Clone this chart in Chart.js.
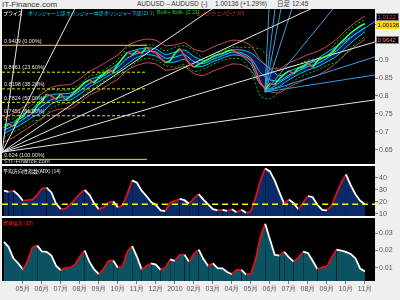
<!DOCTYPE html>
<html>
<head>
<meta charset="utf-8">
<title>AUDUSD</title>
<script src="https://cdn.jsdelivr.net/npm/chart.js@4.4.0/dist/chart.umd.min.js"></script>
<style>
  html, body { margin: 0; padding: 0; }
  body { width: 400px; height: 300px; background: #efefef; position: relative; overflow: hidden;
         font-family: "Liberation Sans", "Noto Sans CJK JP", sans-serif; }
  canvas { position: absolute; left: 0; }
  .lbl { position: absolute; white-space: nowrap; line-height: 1; transform-origin: left top; }
  .jp { font-family: "Noto Sans CJK JP", sans-serif; }
  .sep { position: absolute; left: 2px; width: 373px; height: 2px; background: #fff; }
</style>
</head>
<body>
<div class="lbl" style="left:2px;top:1px;font-size:8px;color:#333;">IT-Finance.com</div>
<div class="lbl" style="left:137px;top:1px;font-size:6.5px;color:#333;">AUDUSD – AUDUSD</div>
<div class="lbl" style="left:201px;top:1px;font-size:6.5px;color:#333;">(-)</div>
<div class="lbl" style="left:215px;top:1px;font-size:6.5px;color:#333;">1.00136 (+1.29%)</div>
<div class="lbl jp" style="left:277px;top:0px;font-size:6.5px;color:#333;">日足</div>
<div class="lbl" style="left:292px;top:1px;font-size:6.5px;color:#333;">12:45</div>

<canvas id="mainChart" width="400" height="156" style="top:9px"></canvas>
<canvas id="adxChart" width="400" height="50" style="top:166px"></canvas>
<canvas id="sdChart" width="400" height="80" style="top:218px"></canvas>
<div class="sep" style="top:164px"></div>
<div class="sep" style="top:216px"></div>

<div class="lbl jp" style="left:3px;top:10px;font-size:5px;color:#fff;">プライス</div>
<div class="lbl jp" style="left:28px;top:10px;font-size:5px;color:#00d8ff;transform:scaleX(0.93);">ボリンジャー上部 ボリンジャー中部 ボリンジャー下部 [21 1]</div>
<div class="lbl" style="left:157px;top:10px;font-size:5.5px;color:#00e000;">Bolli+ Bolli- [2 21]</div>
<div class="lbl jp" style="left:197px;top:10px;font-size:5px;color:#e04040;transform:scaleX(0.6);">エンベロープ+ エンベロープ- [10 3]</div>
<div class="lbl" style="left:4px;top:158px;font-size:6px;color:#ddd;">©IT-Finance.com</div>
<div class="lbl jp" style="left:3px;top:168px;font-size:5px;color:#fff;">平均方向性指数(ADX) (14)</div>
<div class="lbl jp" style="left:3px;top:220px;font-size:5px;color:#ff2020;">標準偏差 (20)</div>

<script>
// x axis is months counted from 1 Apr 2009
const X_MIN = -0.1;
const X_MAX = 19.53;
const PRICE_STEP = 0.25;  // months between price / indicator samples
const BAND_STEP = 0.5;    // months between band samples

const monthTicks = [1, 2, 3, 4, 5, 6, 7, 8, 9, 10, 11, 12, 13, 14, 15, 16, 17, 18, 19];
const monthLabels = ['05月', '06月', '07月', '08月', '09月', '10月', '11月', '12月', '2010',
  '02月', '03月', '04月', '05月', '06月', '07月', '08月', '09月', '10月', '11月'];

// AUD/USD close, every quarter month
const closePrice = [
  0.712, 0.722, 0.716, 0.735, 0.742, 0.760, 0.752, 0.772, 0.785, 0.805, 0.800, 0.790,
  0.806, 0.788, 0.800, 0.812, 0.825, 0.838, 0.845, 0.836, 0.852, 0.860, 0.873, 0.868,
  0.888, 0.905, 0.922, 0.915, 0.925, 0.918, 0.935, 0.925, 0.920, 0.905, 0.892, 0.898,
  0.918, 0.932, 0.912, 0.890, 0.880, 0.888, 0.895, 0.902, 0.910, 0.915, 0.918, 0.925,
  0.928, 0.920, 0.915, 0.908, 0.900, 0.872, 0.838, 0.818, 0.835, 0.832, 0.848, 0.860,
  0.870, 0.862, 0.878, 0.882, 0.892, 0.880, 0.898, 0.906, 0.912, 0.918, 0.935, 0.950,
  0.962, 0.975, 0.985, 0.995, 1.001
];

// bands, every half month
const bandMid = [0.705, 0.718, 0.735, 0.752, 0.772, 0.790, 0.797, 0.798, 0.815, 0.835, 0.848, 0.864, 0.880,
  0.905, 0.918, 0.925, 0.922, 0.905, 0.908, 0.915, 0.895, 0.890, 0.902, 0.912, 0.922, 0.920,
  0.905, 0.865, 0.845, 0.842, 0.858, 0.870, 0.882, 0.890, 0.905, 0.925, 0.950, 0.972, 0.990];
const bandUp1 = [0.720, 0.728, 0.748, 0.764, 0.792, 0.804, 0.806, 0.808, 0.824, 0.845, 0.855, 0.872, 0.890,
  0.920, 0.929, 0.934, 0.931, 0.915, 0.922, 0.928, 0.910, 0.898, 0.908, 0.918, 0.928, 0.928,
  0.920, 0.898, 0.875, 0.856, 0.869, 0.879, 0.891, 0.898, 0.912, 0.938, 0.962, 0.985, 1.001];
const bandDn1 = [0.695, 0.709, 0.724, 0.741, 0.754, 0.778, 0.788, 0.789, 0.805, 0.825, 0.840, 0.856, 0.869,
  0.889, 0.907, 0.915, 0.911, 0.895, 0.894, 0.902, 0.882, 0.883, 0.895, 0.905, 0.914, 0.911,
  0.888, 0.833, 0.819, 0.827, 0.845, 0.860, 0.872, 0.881, 0.895, 0.910, 0.935, 0.958, 0.978];
const bandUp2 = [0.735, 0.738, 0.760, 0.775, 0.812, 0.818, 0.815, 0.818, 0.832, 0.855, 0.862, 0.880, 0.900,
  0.935, 0.940, 0.942, 0.940, 0.925, 0.935, 0.940, 0.925, 0.905, 0.915, 0.925, 0.935, 0.935,
  0.935, 0.930, 0.905, 0.870, 0.880, 0.888, 0.900, 0.905, 0.920, 0.950, 0.975, 0.998, 1.012];
const bandDn2 = [0.685, 0.700, 0.712, 0.730, 0.735, 0.765, 0.778, 0.780, 0.795, 0.815, 0.832, 0.848, 0.858,
  0.872, 0.895, 0.905, 0.900, 0.885, 0.880, 0.888, 0.868, 0.875, 0.888, 0.898, 0.905, 0.902,
  0.870, 0.800, 0.792, 0.812, 0.832, 0.850, 0.862, 0.872, 0.885, 0.895, 0.920, 0.945, 0.965];
const envUp = [0.738, 0.752, 0.768, 0.786, 0.806, 0.824, 0.830, 0.832, 0.848, 0.868, 0.882, 0.898, 0.914,
  0.940, 0.952, 0.958, 0.955, 0.940, 0.942, 0.948, 0.930, 0.924, 0.936, 0.946, 0.955, 0.953,
  0.940, 0.900, 0.878, 0.875, 0.892, 0.903, 0.915, 0.924, 0.938, 0.958, 0.983, 1.005, 1.022];
const envDn = [0.672, 0.685, 0.702, 0.719, 0.739, 0.757, 0.764, 0.765, 0.782, 0.802, 0.815, 0.831, 0.847,
  0.872, 0.885, 0.892, 0.889, 0.872, 0.875, 0.882, 0.862, 0.857, 0.869, 0.879, 0.889, 0.887,
  0.872, 0.832, 0.812, 0.809, 0.825, 0.837, 0.849, 0.857, 0.872, 0.892, 0.917, 0.939, 0.957];

// fibonacci retracement
const fibLevels = [0.9409, 0.8661, 0.8198, 0.7824, 0.7451, 0.624];
const fibLabels = ['0.9409 (0.00%)', '0.8661 (23.60%)', '0.8198 (38.20%)', '0.7824 (50.00%)',
  '0.7451 (61.80%)', '0.624 (100.00%)'];
const FIB_END = 7.53;

// gann fans: [month, price] base and slopes in price per month
const fanWhiteBase = [-0.1, 0.644];
const fanWhiteSlopes = [0.38, 0.104, 0.036, 0.0245, 0.0156, 0.0074];
const fanBlueBase = [13.74, 0.811];
const fanBlueSlopes = [1.1, 0.44, 0.275, 0.163, 0.0645, 0.0338, 0.0169, 0.0082];

// ADX (14), every quarter month
const adxValues = [
  29.5, 28.5, 29.5, 26, 21, 21.5, 22, 26, 31, 32, 28, 18.5, 14, 14.5, 18, 22.5, 27, 30, 26, 19,
  14, 15.5, 19.5, 20.5, 15.5, 17, 27, 38, 36, 29.5, 25, 20, 17.5, 13, 12.5, 19.5, 21, 22.5, 21.5, 18.5,
  23, 26.5, 22, 18, 14, 13, 13.5, 12.5, 14, 11.5, 13.5, 11, 12, 24, 38, 48, 45.5, 38, 28, 18.5,
  22, 19, 14, 19.5, 25, 24, 17.5, 13.5, 13, 17, 27, 36, 43, 34, 26.5, 21, 18.2
];
const ADX_NOW = 18.226;

// standard deviation (20), every quarter month
const sdValues = [
  0.0250, 0.0220, 0.0155, 0.0126, 0.0090, 0.0140, 0.0218, 0.0228, 0.0195, 0.0192, 0.0170, 0.0110,
  0.0085, 0.0100, 0.0100, 0.0120, 0.0164, 0.0200, 0.0135, 0.0090, 0.0062, 0.0095, 0.0140, 0.0142,
  0.0100, 0.0110, 0.0195, 0.0225, 0.0165, 0.0090, 0.0110, 0.0125, 0.0118, 0.0088, 0.0100, 0.0148,
  0.0140, 0.0175, 0.0175, 0.0135, 0.0180, 0.0205, 0.0150, 0.0110, 0.0125, 0.0098, 0.0096, 0.0075,
  0.0062, 0.0087, 0.0088, 0.0060, 0.0065, 0.0150, 0.0280, 0.0355, 0.0265, 0.0175, 0.0170, 0.0193,
  0.0160, 0.0135, 0.0160, 0.0193, 0.0185, 0.0140, 0.0092, 0.0102, 0.0107, 0.0160, 0.0205, 0.0200,
  0.0192, 0.0180, 0.0155, 0.0095, 0.0078
];
const SD_NOW = 0.0078;

const priceTicks = [0.65, 0.7, 0.75, 0.8, 0.85, 0.9, 0.95, 1.0];
const adxTicks = [10, 20, 30, 40];
const sdTicks = [0.01, 0.02, 0.03];

const priceTagValues = [1.0122, 1.00136, 0.9735, 0.9642];
const priceTagTexts = ['1.0122', '1.00136', '0.9735', '0.9642'];


function toPoints(values, step) {
  return values.map((v, i) => ({ x: i * step, y: v }));
}

function fanLine(base, slope) {
  return [{ x: base[0], y: base[1] }, { x: X_MAX, y: base[1] + slope * (X_MAX - base[0]) }];
}

function flatLine(value, from, to) {
  return [{ x: from, y: value }, { x: to, y: value }];
}

// black panel behind the plot area
const panelBg = {
  id: 'panelBg',
  beforeDraw(chart) {
    const { ctx, chartArea: a } = chart;
    ctx.save();
    ctx.fillStyle = '#000';
    ctx.fillRect(a.left, a.top, a.right - a.left, a.bottom - a.top);
    ctx.restore();
  }
};

// value boxes on the right axis
const valueTags = {
  id: 'valueTags',
  afterDraw(chart, args, opts) {
    const { ctx, chartArea, scales } = chart;
    (opts.items || []).forEach(t => {
      const cy = Math.round(scales.y.getPixelForValue(t.value)) + (t.shift || 0);
      const x0 = chartArea.right + 1;
      ctx.save();
      ctx.fillStyle = t.bg;
      ctx.fillRect(x0, cy - 4, 23, 8);
      if (t.border) {
        ctx.strokeStyle = t.border;
        ctx.lineWidth = 1;
        ctx.strokeRect(x0 + 0.5, cy - 3.5, 22, 7);
      }
      ctx.fillStyle = t.fg;
      ctx.font = '6px "Liberation Sans"';
      ctx.textBaseline = 'middle';
      ctx.fillText(t.text, x0 + 1.5, cy + 0.5);
      ctx.restore();
    });
  }
};

const fibText = {
  id: 'fibText',
  afterDatasetsDraw(chart) {
    const { ctx, scales: { x, y } } = chart;
    ctx.save();
    ctx.font = '5.5px "Liberation Sans"';
    ctx.fillStyle = '#e0e0e0';
    ctx.textBaseline = 'bottom';
    fibLevels.forEach((lv, i) => {
      ctx.fillText(fibLabels[i], x.getPixelForValue(X_MIN) + 2, y.getPixelForValue(lv) - 1.5);
    });
    ctx.restore();
  }
};

function rightAxis(min, max, ticks) {
  return {
    position: 'right',
    min: min,
    max: max,
    afterBuildTicks: s => { s.ticks = ticks.map(v => ({ value: v })); },
    afterFit: s => { s.width = 25; s.paddingTop = 0; s.paddingBottom = 0; },
    grid: { drawOnChartArea: false, tickLength: 3, color: '#777' },
    border: { display: false },
    ticks: { color: '#555', font: { size: 7, family: 'Liberation Sans' }, padding: 1,
             autoSkip: false, callback: v => String(v) }
  };
}

function hiddenX() {
  return { type: 'linear', min: X_MIN, max: X_MAX, display: false };
}

function baseOptions(scales, tags) {
  return {
    responsive: false,
    animation: false,
    events: [],
    layout: { padding: { left: 2, right: 0, top: 0, bottom: 0 }, autoPadding: false },
    elements: { point: { radius: 0 }, line: { tension: 0.2 } },
    plugins: { legend: { display: false }, tooltip: { enabled: false }, valueTags: { items: tags } },
    scales: scales
  };
}

const upDown = (up, down) => ({
  borderColor: c => c.p1.parsed.y >= c.p0.parsed.y ? up : down
});

// ---- main price panel ----
const mainSets = [];
mainSets.push({ data: toPoints(closePrice, PRICE_STEP), borderWidth: 1.5, order: 0,
  borderColor: '#3cff3c', segment: upDown('#3cff3c', '#ff4040'), tension: 0 });
fanWhiteSlopes.forEach(s => mainSets.push({ data: fanLine(fanWhiteBase, s), borderColor: '#e6e6e6',
  borderWidth: 1, order: 1, tension: 0 }));
fanBlueSlopes.forEach(s => mainSets.push({ data: fanLine(fanBlueBase, s), borderColor: '#3a9be0',
  borderWidth: 1, order: 1, tension: 0 }));
fibLevels.forEach((lv, i) => mainSets.push({ data: flatLine(lv, X_MIN, FIB_END), borderColor: '#e6e600',
  borderWidth: 1, borderDash: (i === 0 || i === fibLevels.length - 1) ? [] : [3, 2], order: 2, tension: 0 }));
mainSets.push({ data: toPoints(bandMid, BAND_STEP), borderColor: '#00e0ff', borderWidth: 1, order: 3 });
mainSets.push({ data: toPoints(bandUp1, BAND_STEP), borderColor: '#00c8f0', borderWidth: 1, order: 6,
  fill: '+1', backgroundColor: '#0a1850' });
mainSets.push({ data: toPoints(bandDn1, BAND_STEP), borderColor: '#00c8f0', borderWidth: 1, order: 4 });
mainSets.push({ data: toPoints(bandUp2, BAND_STEP), borderColor: '#00c800', borderWidth: 1, borderDash: [2, 2], order: 4 });
mainSets.push({ data: toPoints(bandDn2, BAND_STEP), borderColor: '#00c800', borderWidth: 1, borderDash: [2, 2], order: 4 });
mainSets.push({ data: toPoints(envUp, BAND_STEP), borderColor: '#c85050', borderWidth: 1, order: 5 });
mainSets.push({ data: toPoints(envDn, BAND_STEP), borderColor: '#c85050', borderWidth: 1, order: 5 });

new Chart(document.getElementById('mainChart'), {
  type: 'line',
  data: { datasets: mainSets },
  options: baseOptions({ x: hiddenX(), y: rightAxis(0.6083, 1.0417, priceTicks) }, [
    { value: priceTagValues[0], text: priceTagTexts[0], fg: '#d04848', bg: '#000', border: '#888', shift: -3 },
    { value: priceTagValues[1], text: priceTagTexts[1], fg: '#000', bg: '#ffd800', shift: 1 },
    { value: priceTagValues[2], text: priceTagTexts[2], fg: '#00ff00', bg: '#000' },
    { value: priceTagValues[3], text: priceTagTexts[3], fg: '#ff7070', bg: '#000', border: '#888', shift: 3 }
  ]),
  plugins: [panelBg, fibText, valueTags]
});

// ---- ADX panel ----
new Chart(document.getElementById('adxChart'), {
  type: 'line',
  data: { datasets: [
    { data: flatLine(ADX_NOW, X_MIN, X_MAX), borderColor: '#ffff00', borderWidth: 1.5, borderDash: [6, 4], order: 0 },
    { data: toPoints(adxValues, PRICE_STEP), borderWidth: 1.8, fill: 'start', backgroundColor: '#0b2b66',
      borderColor: '#fff', segment: upDown('#e01010', '#ffffff'), tension: 0, order: 1 }
  ] },
  options: baseOptions({ x: hiddenX(), y: rightAxis(8.33, 50, adxTicks) }, [
    { value: ADX_NOW, text: '18.226', fg: '#fff', bg: '#000', border: '#aaa' }
  ]),
  plugins: [panelBg, valueTags]
});

// ---- standard deviation panel ----
new Chart(document.getElementById('sdChart'), {
  type: 'line',
  data: { datasets: [
    { data: toPoints(sdValues, PRICE_STEP), borderWidth: 1.8, fill: 'start', backgroundColor: '#0b5263',
      borderColor: '#fff', segment: upDown('#e01010', '#ffffff'), tension: 0 }
  ] },
  options: baseOptions({
    x: {
      type: 'linear', min: X_MIN, max: X_MAX,
      afterBuildTicks: s => { s.ticks = monthTicks.map(v => ({ value: v })); },
      afterFit: s => { s.height = 17; s.paddingLeft = 0; s.paddingRight = 0; },
      grid: { drawOnChartArea: false, tickLength: 3, color: '#777' },
      border: { display: false },
      ticks: { color: '#555', font: { size: 7, family: 'Liberation Sans' }, maxRotation: 0, autoSkip: false,
               padding: 1, callback: v => monthLabels[monthTicks.indexOf(v)] }
    },
    y: rightAxis(0.00227, 0.0389, sdTicks)
  }, [
    { value: SD_NOW, text: '0.0078', fg: '#ff2020', bg: '#000', border: '#888' }
  ]),
  plugins: [panelBg, valueTags]
});
</script>
</body>
</html>
